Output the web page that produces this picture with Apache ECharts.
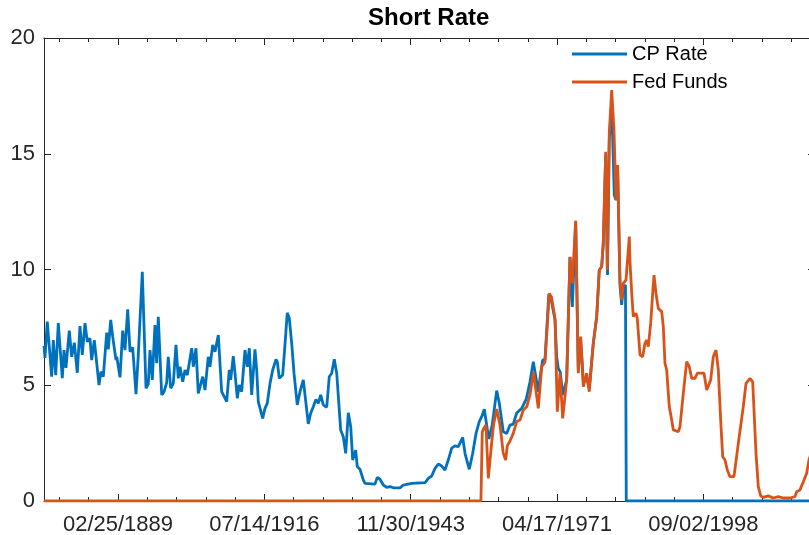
<!DOCTYPE html>
<html>
<head>
<meta charset="utf-8">
<title>Short Rate</title>
<script src="https://cdn.jsdelivr.net/npm/echarts@6/dist/echarts.min.js"></script>
<style>
  html, body { margin: 0; padding: 0; background: #fff; }
  #chart { width: 809px; height: 535px; }
</style>
</head>
<body>
<div id="chart"></div>
<script>
// CP rate, decimal years and percent; zero after the series ends
const cpYears = [
  1875.31, 1875.49, 1875.92, 1876.75, 1877.05, 1877.50, 1877.98, 1878.73, 1879.05, 1879.42,
  1880.04, 1880.49, 1880.98, 1881.54, 1882.04, 1882.47, 1882.98, 1883.41, 1883.91, 1884.23,
  1884.72, 1885.60, 1885.97, 1886.40, 1887.04, 1887.34, 1887.79, 1888.16, 1888.78, 1888.92,
  1889.53, 1890.03, 1890.46, 1890.97, 1891.40, 1891.90, 1892.52, 1892.95, 1893.27, 1893.70,
  1894.39, 1894.82, 1895.14, 1895.57, 1896.07, 1896.39, 1896.69, 1897.33, 1897.76, 1898.26,
  1898.56, 1899.01, 1899.50, 1900.00, 1900.43, 1900.75, 1901.26, 1901.69, 1902.12, 1902.49,
  1902.94, 1903.24, 1903.74, 1904.17, 1904.49, 1905.00, 1905.43, 1906.04, 1906.36, 1906.87,
  1907.30, 1907.92, 1908.55, 1908.85, 1909.49, 1909.97, 1910.24, 1910.72, 1911.04, 1911.47,
  1911.84, 1912.29, 1912.91, 1913.34, 1913.72, 1914.16, 1914.41, 1914.78, 1915.10, 1915.40,
  1915.72, 1916.22, 1916.65, 1917.08, 1917.59, 1918.09, 1918.71, 1918.95, 1919.33, 1919.96,
  1920.39, 1920.82, 1921.20, 1921.65, 1922.08, 1922.69, 1923.20, 1923.82, 1924.14, 1924.75,
  1925.20, 1925.69, 1926.19, 1926.62, 1927.07, 1927.56, 1928.20, 1928.68, 1929.13, 1929.62,
  1930.07, 1930.81, 1931.30, 1931.75, 1932.24, 1932.69, 1933.06, 1933.62, 1933.92, 1934.42,
  1935.04, 1935.36, 1937.23, 1937.66, 1938.17, 1938.78, 1939.42, 1940.04, 1940.65, 1941.91,
  1942.53, 1944.10, 1946.59, 1947.20, 1947.84, 1948.46, 1949.07, 1949.71, 1950.33, 1950.94,
  1951.58, 1952.20, 1952.81, 1953.64, 1954.07, 1954.87, 1955.51, 1956.13, 1956.74, 1957.19,
  1957.68, 1958.52, 1959.16, 1960.00, 1960.49, 1961.23, 1961.87, 1962.49, 1963.10, 1963.74,
  1964.68, 1965.54, 1966.23, 1966.85, 1967.26, 1967.78, 1968.23, 1968.60, 1969.03, 1969.75,
  1970.10, 1970.91, 1971.22, 1971.52, 1971.90, 1972.35, 1973.09, 1973.71, 1974.14, 1974.78,
  1975.26, 1975.71, 1976.20, 1976.84, 1977.32, 1978.07, 1978.71, 1979.19, 1979.64, 1979.94,
  1980.39, 1980.73, 1981.06, 1981.51, 1982.00, 1982.32, 1982.63, 1983.06, 1983.38, 1983.68,
  1984.09, 1984.24, 2019.55
]
const cpRates = [
  6.70, 6.18, 7.75, 5.37, 6.95, 5.44, 7.69, 5.31, 6.52, 5.75,
  7.36, 6.23, 6.84, 5.54, 7.56, 6.31, 7.68, 6.88, 7.03, 6.09,
  6.95, 5.01, 5.59, 5.37, 7.27, 6.55, 7.82, 7.10, 6.09, 6.23,
  5.34, 7.36, 6.52, 8.28, 6.45, 6.64, 4.62, 6.31, 6.31, 9.90,
  4.87, 5.05, 6.52, 5.23, 7.60, 5.95, 7.96, 4.58, 4.71, 5.11,
  6.23, 4.87, 5.08, 6.74, 5.30, 5.80, 5.15, 5.66, 5.44, 5.37,
  6.60, 5.80, 6.60, 4.65, 4.72, 5.37, 4.79, 6.23, 5.80, 6.74,
  6.45, 7.17, 4.72, 4.65, 4.29, 5.66, 5.23, 6.26, 5.52, 4.44,
  5.01, 4.72, 6.52, 5.80, 6.60, 4.58, 4.51, 6.55, 5.66, 4.29,
  4.29, 3.57, 4.00, 4.22, 5.08, 5.66, 6.12, 6.02, 5.30, 5.44,
  6.74, 8.13, 7.89, 6.81, 5.52, 4.15, 4.72, 5.23, 5.15, 3.33,
  3.79, 4.07, 4.39, 4.22, 4.58, 4.15, 4.05, 5.37, 5.52, 6.12,
  5.52, 3.07, 2.78, 2.06, 3.81, 3.21, 1.77, 2.20, 1.48, 1.37,
  0.91, 0.76, 0.73, 1.02, 0.94, 0.69, 0.59, 0.62, 0.57, 0.57,
  0.69, 0.76, 0.79, 0.98, 1.08, 1.41, 1.60, 1.51, 1.34, 1.77,
  2.28, 2.38, 2.35, 2.75, 2.06, 1.37, 2.06, 2.92, 3.43, 3.64,
  3.96, 2.68, 3.28, 4.77, 4.22, 2.99, 2.92, 3.28, 3.32, 3.80,
  4.00, 4.41, 5.15, 6.02, 5.44, 4.72, 5.53, 6.09, 6.09, 8.94,
  8.81, 7.82, 6.23, 5.73, 5.57, 4.58, 5.23, 10.54, 8.38, 12.05,
  5.66, 6.95, 5.23, 5.31, 4.88, 6.81, 7.96, 9.98, 10.12, 11.06,
  14.95, 9.76, 15.59, 17.20, 13.22, 13.00, 14.30, 9.33, 8.47, 9.24,
  9.33, 0, 0
]

// Fed funds rate; zero before the series starts
const ffYears = [
  1875.31, 1957.05, 1957.30, 1957.62, 1957.99, 1958.43, 1958.84, 1959.40, 1960.00, 1960.62,
  1961.23, 1961.68, 1961.98, 1962.49, 1963.10, 1963.74, 1964.36, 1964.98, 1965.61, 1966.23,
  1966.88, 1967.78, 1968.42, 1969.03, 1969.84, 1970.25, 1970.91, 1971.34, 1971.84, 1972.35,
  1973.09, 1973.71, 1974.14, 1974.78, 1975.26, 1975.71, 1976.20, 1976.84, 1977.32, 1978.07,
  1978.71, 1979.19, 1979.64, 1979.94, 1980.39, 1980.69, 1981.06, 1981.51, 1981.94, 1982.32,
  1982.63, 1983.06, 1983.38, 1983.68, 1984.19, 1984.81, 1984.94, 1985.26, 1985.55, 1986.06,
  1986.30, 1986.81, 1987.31, 1987.74, 1988.06, 1988.36, 1988.81, 1989.18, 1989.43, 1989.80,
  1990.23, 1990.87, 1991.17, 1991.48, 1991.80, 1992.29, 1992.74, 1993.04, 1993.97, 1994.29,
  1994.91, 1995.54, 1996.03, 1996.48, 1997.10, 1997.53, 1998.78, 1999.29, 1999.58, 2000.03,
  2000.52, 2001.03, 2001.46, 2001.90, 2002.28, 2002.71, 2003.14, 2003.64, 2004.39, 2005.20,
  2006.13, 2006.64, 2007.39, 2007.89, 2008.51, 2008.94, 2009.39, 2009.87, 2010.81, 2011.75,
  2012.68, 2013.62, 2014.87, 2015.80, 2016.12, 2016.74, 2017.36, 2017.99, 2018.42, 2018.99,
  2019.55
]
const ffRates = [
  0, 0, 2.99, 3.15, 3.28, 0.98, 1.99, 3.28, 3.97, 3.28,
  2.06, 1.77, 2.38, 2.59, 2.92, 3.43, 3.50, 3.93, 4.07, 4.58,
  5.57, 4.00, 5.80, 6.00, 8.97, 8.81, 7.89, 3.86, 5.52, 3.57,
  5.23, 10.55, 9.40, 12.11, 5.52, 7.10, 4.94, 5.52, 4.72, 6.81,
  7.96, 9.98, 10.12, 11.20, 15.09, 9.98, 15.88, 17.75, 16.03, 13.00,
  14.51, 9.55, 8.68, 9.40, 9.55, 11.42, 10.32, 8.98, 7.96, 8.11,
  7.89, 6.31, 6.23, 6.81, 6.95, 6.67, 7.68, 8.97, 9.76, 8.97,
  8.32, 8.18, 7.53, 5.95, 5.66, 4.07, 3.50, 3.07, 2.99, 3.21,
  4.65, 6.02, 5.80, 5.30, 5.30, 5.52, 5.52, 4.79, 4.76, 5.23,
  6.23, 6.52, 5.66, 3.50, 1.91, 1.77, 1.34, 1.05, 1.05, 2.49,
  4.07, 5.08, 5.30, 5.15, 2.06, 0.62, 0.22, 0.16, 0.22, 0.13,
  0.19, 0.13, 0.13, 0.19, 0.40, 0.48, 0.83, 1.20, 1.77, 2.20,
  2.40
]

// x ticks are serial day numbers (day 1 = 01/01/0000)
const majorTicks = [690000, 700000, 710000, 720000, 730000]
const tickLabels = ['02/25/1889', '07/14/1916', '11/30/1943', '04/17/1971', '09/02/1998']
const yTicks = [0, 5, 10, 15, 20]

const xMin = 684944
const xMax = 737626
const minorTicks = []
for (let d = 686000; d < xMax; d += 2000) {
  if (d % 10000 !== 0) minorTicks.push(d)
}

function toDayNum (yr) {
  return 719529 + (yr - 1970) * 365.2425
}
function pairs (years, vals) {
  return years.map((y, i) => [toDayNum(y), vals[i]])
}

const FONT = '"Liberation Sans", Arial, Helvetica, sans-serif'
const AX = '#262626'

function xAxisDef (pos, ticks, len, withLabels) {
  return {
    type: 'value',
    position: pos,
    min: xMin,
    max: xMax,
    splitLine: {show: false},
    axisLine: {show: len > 5, onZero: false, lineStyle: {color: AX, width: 1}},
    axisTick: {show: true, inside: true, length: len, customValues: ticks, lineStyle: {color: AX}},
    axisLabel: withLabels ? {
      show: true,
      customValues: majorTicks,
      margin: 13,
      color: AX,
      fontSize: 22,
      fontFamily: FONT,
      formatter: function (v) {
        const i = majorTicks.indexOf(Math.round(v))
        return i >= 0 ? tickLabels[i] : ''
      }
    } : {show: false}
  }
}

const chart = echarts.init(document.getElementById('chart'), null, {renderer: 'canvas'})
const option = {
  animation: false,
  backgroundColor: '#ffffff',
  title: {
    text: 'Short Rate',
    left: 368,
    top: 4,
    padding: 0,
    textStyle: {fontSize: 24, fontWeight: 'bold', color: '#000', fontFamily: FONT, lineHeight: 28}
  },
  legend: {
    orient: 'vertical',
    left: 572,
    top: 43,
    padding: 0,
    icon: 'rect',
    itemWidth: 55,
    itemHeight: 3,
    itemGap: 6,
    data: ['CP Rate', 'Fed Funds'],
    textStyle: {fontSize: 20, color: '#000', fontFamily: FONT, lineHeight: 22}
  },
  // the axes box runs a few pixels past the right edge of the picture
  grid: {left: 44, right: -6, top: 38, bottom: 34, outerBoundsMode: 'none', containLabel: false},
  xAxis: [
    xAxisDef('bottom', majorTicks, 7, true),
    xAxisDef('bottom', minorTicks, 4, false),
    xAxisDef('top', majorTicks, 7, false),
    xAxisDef('top', minorTicks, 4, false)
  ],
  yAxis: [
    {
      type: 'value',
      position: 'left',
      min: 0,
      max: 20,
      interval: 5,
      splitLine: {show: false},
      axisLine: {show: true, onZero: false, lineStyle: {color: AX, width: 1}},
      axisTick: {show: true, inside: true, length: 7, lineStyle: {color: AX}},
      axisLabel: {
        margin: 9, color: AX, fontSize: 22, fontFamily: FONT,
        formatter: function (v) { return yTicks.indexOf(v) >= 0 ? String(v) : '' }
      }
    },
    {
      type: 'value',
      position: 'right',
      min: 0,
      max: 20,
      interval: 5,
      splitLine: {show: false},
      axisLine: {show: true, onZero: false, lineStyle: {color: AX, width: 1}},
      axisTick: {show: true, inside: true, length: 7, lineStyle: {color: AX}},
      axisLabel: {show: false}
    }
  ],
  series: [
    {
      name: 'CP Rate',
      type: 'line',
      xAxisIndex: 0,
      yAxisIndex: 0,
      symbol: 'none',
      color: '#0072BD',
      lineStyle: {width: 2.8, color: '#0072BD'},
      data: pairs(cpYears, cpRates)
    },
    {
      name: 'Fed Funds',
      type: 'line',
      xAxisIndex: 0,
      yAxisIndex: 0,
      symbol: 'none',
      color: '#D95319',
      lineStyle: {width: 2.8, color: '#D95319'},
      data: pairs(ffYears, ffRates)
    }
  ]
}
chart.setOption(option)
</script>
</body>
</html>
